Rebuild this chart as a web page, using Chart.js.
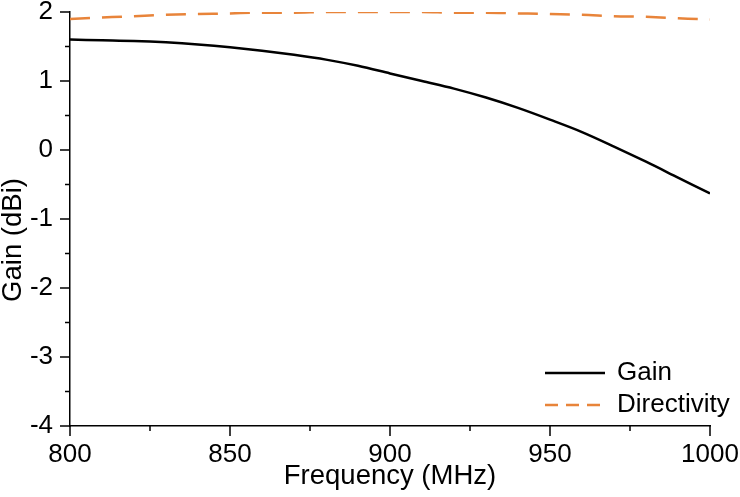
<!DOCTYPE html>
<html>
<head>
<meta charset="utf-8">
<script src="https://cdn.jsdelivr.net/npm/chart.js@4"></script>
<style>
  html, body { margin: 0; padding: 0; background: #fff; }
  #wrap { width: 740px; height: 497px; }
</style>
</head>
<body>
<div id="wrap"><canvas id="myChart" width="740" height="497"></canvas></div>
<script>
// data
const frequency = [800, 810, 820, 830, 840, 850, 860, 870, 880, 890, 900,
                   910, 920, 930, 940, 950, 960, 970, 980, 990, 1000];
const gain = [1.60, 1.59, 1.58, 1.56, 1.53, 1.49, 1.44, 1.38, 1.31, 1.22, 1.11,
              1.00, 0.89, 0.76, 0.61, 0.44, 0.26, 0.05, -0.17, -0.40, -0.63];
const directivity = [1.90, 1.92, 1.94, 1.96, 1.97, 1.98, 1.99, 1.99, 2.00, 2.00, 2.00,
                     2.00, 1.99, 1.99, 1.98, 1.97, 1.96, 1.94, 1.93, 1.91, 1.89];

const xTicks = [800, 850, 900, 950, 1000];
const yTicks = [-4, -3, -2, -1, 0, 1, 2];

const FONT = "'Liberation Sans', Arial, sans-serif";
const ORANGE = '#E8843A';

function pts(ys){
    return frequency.map((f, i) => ({x: f, y: ys[i]}));
}

// outward major + minor ticks, y title and legend
const tickPlugin = {
    id: 'ticks',
    afterDraw(chart){
        const ctx = chart.ctx;
        const xs = chart.scales.x, ys = chart.scales.y;
        const area = chart.chartArea;
        ctx.save();
        ctx.strokeStyle = '#000';
        ctx.lineWidth = 1.5;
        ctx.beginPath();
        for (let i = 0; i < xTicks.length; i++){
            const px = xs.getPixelForValue(xTicks[i]);
            ctx.moveTo(px, area.bottom); ctx.lineTo(px, area.bottom + 10);
            if (i < xTicks.length - 1){
                const mx = xs.getPixelForValue((xTicks[i] + xTicks[i+1]) / 2);
                ctx.moveTo(mx, area.bottom); ctx.lineTo(mx, area.bottom + 5);
            }
        }
        for (let i = 0; i < yTicks.length; i++){
            const py = ys.getPixelForValue(yTicks[i]);
            ctx.moveTo(area.left, py); ctx.lineTo(area.left - 10, py);
            if (i < yTicks.length - 1){
                const my = ys.getPixelForValue((yTicks[i] + yTicks[i+1]) / 2);
                ctx.moveTo(area.left, my); ctx.lineTo(area.left - 5, my);
            }
        }
        ctx.stroke();

        // y title, sits a bit below the middle in the original
        ctx.save();
        ctx.translate(21, 240);
        ctx.rotate(-Math.PI / 2);
        ctx.font = '27.5px ' + FONT;
        ctx.fillStyle = '#000';
        ctx.textAlign = 'center';
        ctx.textBaseline = 'alphabetic';
        ctx.fillText('Gain (dBi)', 0, 0);
        ctx.restore();

        // legend, bottom right inside the plot
        const rows = [
            {label: chart.data.datasets[0].label, color: '#000', dash: [], y: 373},
            {label: chart.data.datasets[1].label, color: ORANGE, dash: [13, 8], y: 405}
        ];
        ctx.font = '26px ' + FONT;
        ctx.textBaseline = 'middle';
        ctx.textAlign = 'left';
        rows.forEach(r => {
            ctx.beginPath();
            ctx.setLineDash(r.dash);
            ctx.strokeStyle = r.color;
            ctx.lineWidth = 2.5;
            ctx.moveTo(545, r.y); ctx.lineTo(605, r.y);
            ctx.stroke();
            ctx.setLineDash([]);
            ctx.fillStyle = '#000';
            ctx.fillText(r.label, 617, r.y);
        });
        ctx.restore();
    }
};

const config = {
    type: 'line',
    data: {
        datasets: [{
            label: 'Gain',
            data: pts(gain),
            borderColor: '#000',
            borderWidth: 2.5,
            pointRadius: 0,
            fill: false,
            cubicInterpolationMode: 'monotone'
        }, {
            label: 'Directivity',
            data: pts(directivity),
            borderColor: ORANGE,
            borderWidth: 2.5,
            borderDash: [20, 12],
            pointRadius: 0,
            fill: false,
            cubicInterpolationMode: 'monotone'
        }]
    },
    options: {
        responsive: false,
        animation: false,
        maintainAspectRatio: false,
        layout: { padding: { left: 0, right: 30, top: 12, bottom: 0 } },
        plugins: { legend: { display: false }, tooltip: { enabled: false } },
        scales: {
            x: {
                type: 'linear',
                min: 800, max: 1000,
                afterBuildTicks: s => { s.ticks = xTicks.map(v => ({value: v})); },
                afterFit: s => { s.height = 71; s.paddingLeft = 0; s.paddingRight = 0; },
                grid: { display: false },
                border: { display: true, color: '#000', width: 1.5 },
                ticks: { color: '#000', padding: 5, maxRotation: 0,
                         callback: v => String(v),
                         font: { family: FONT, size: 26 } },
                title: { display: true, text: 'Frequency (MHz)', color: '#000',
                         padding: { top: 0, bottom: 4 },
                         font: { family: FONT, size: 27.5 } }
            },
            y: {
                min: -4, max: 2,
                afterBuildTicks: s => { s.ticks = yTicks.map(v => ({value: v})); },
                afterFit: s => { s.width = 70; s.paddingTop = 0; s.paddingBottom = 0; },
                grid: { display: false },
                border: { display: true, color: '#000', width: 1.5 },
                ticks: { color: '#000', padding: 9,
                         callback: v => String(v),
                         font: { family: FONT, size: 26 } },
                title: { display: false }
            }
        }
    },
    plugins: [tickPlugin]
};

new Chart(document.getElementById('myChart'), config);
</script>
</body>
</html>
